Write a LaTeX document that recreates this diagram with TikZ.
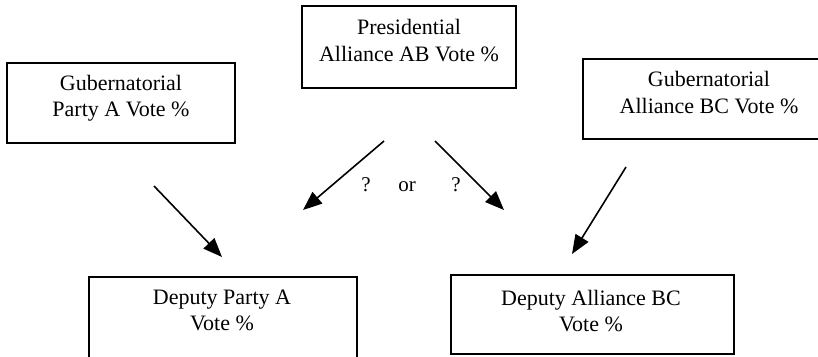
\documentclass[tikz,border=0pt]{standalone}
\usepackage{fontspec}
\setmainfont{Liberation Serif}
\usetikzlibrary{arrows.meta}
\begin{document}
\begin{tikzpicture}[x=1pt,y=-1pt,
  box/.style={draw, line width=1.3pt, inner sep=0pt},
  txt/.style={align=center, inner sep=0pt, anchor=base, font=\fontsize{22}{26.5}\selectfont},
  arr/.style={line width=1.6pt, -{Triangle[length=19pt,width=15pt]}},
  lbl/.style={inner sep=0pt, anchor=base, font=\fontsize{21}{25}\selectfont}]
\useasboundingbox (0,0) rectangle (818,356);
% boxes
\node[box, minimum width=228pt, minimum height=80pt] (b1) at (121,103) {};
\node[box, minimum width=214pt, minimum height=82pt] (b2) at (409,47) {};
\node[box, minimum width=257pt, minimum height=80pt] (b3) at (711.5,99) {};
\node[box, minimum width=268pt, minimum height=83pt] (b4) at (223,318.5) {};
\node[box, minimum width=283pt, minimum height=79pt] (b5) at (592.5,314.5) {};
% texts (base anchor = baseline of the last line)
\node[txt] (t1) at (121,116.5) {Gubernatorial\\Party A Vote \%};
\node[txt] (t2) at (409,61) {Presidential\\Alliance AB Vote \%};
\node[txt] (t3) at (709,113) {Gubernatorial\\Alliance BC Vote \%};
\node[txt] (t4) at (222,330.5) {Deputy Party A\\Vote \%};
\node[txt] (t5) at (591,331.5) {Deputy Alliance BC\\Vote \%};
% arrows
\coordinate (a1s) at (154,186); \coordinate (a1e) at (222,257);
\coordinate (a2s) at (384,141); \coordinate (a2e) at (303,210);
\coordinate (a3s) at (435,141); \coordinate (a3e) at (504,210);
\coordinate (a4s) at (626,167); \coordinate (a4e) at (572,254);
\draw[arr] (a1s) -- (a1e);
\draw[arr] (a2s) -- (a2e);
\draw[arr] (a3s) -- (a3e);
\draw[arr] (a4s) -- (a4e);
% labels
\node[lbl] (q1) at (366,191) {?};
\node[lbl] (or) at (407,191) {or};
\node[lbl] (q2) at (456,191) {?};
\end{tikzpicture}
\end{document}
